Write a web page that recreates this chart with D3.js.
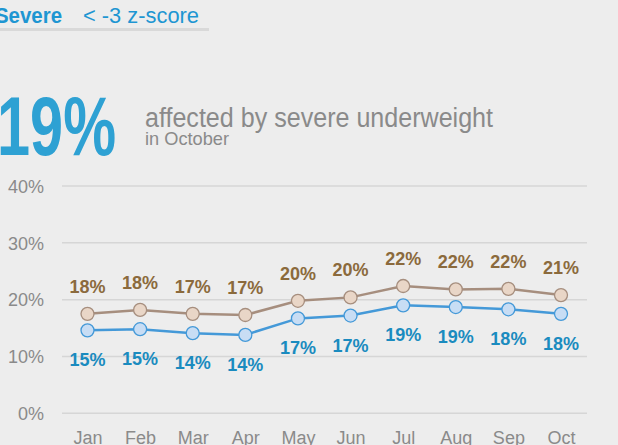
<!DOCTYPE html>
<html>
<head>
<meta charset="utf-8">
<script src="https://cdn.jsdelivr.net/npm/d3@7"></script>
<style>
  body { margin: 0; background: #ededed; }
  svg { display: block; font-family: "Liberation Sans", Arial, sans-serif; }
</style>
</head>
<body>
<div id="chart"></div>
<script>
var months = ["Jan", "Feb", "Mar", "Apr", "May", "Jun", "Jul", "Aug", "Sep", "Oct"];
var upperValues = [17.5, 18.2, 17.5, 17.3, 19.8, 20.4, 22.4, 21.8, 21.9, 20.8];
var upperLabels = ["18%", "18%", "17%", "17%", "20%", "20%", "22%", "22%", "22%", "21%"];
var severeValues = [14.6, 14.8, 14.1, 13.8, 16.7, 17.2, 19.0, 18.7, 18.3, 17.5];
var severeLabels = ["15%", "15%", "14%", "14%", "17%", "17%", "19%", "19%", "18%", "18%"];
var yTicks = [0, 10, 20, 30, 40];

var width = 618, height = 445;

var svg = d3.select("#chart").append("svg")
    .attr("width", width)
    .attr("height", height);

// header
svg.append("line")
    .attr("x1", 0).attr("x2", 209)
    .attr("y1", 29.5).attr("y2", 29.5)
    .attr("stroke", "#d9d9d9")
    .attr("stroke-width", 3);

svg.append("text")
    .attr("x", -5).attr("y", 23)
    .attr("font-size", 22)
    .attr("font-weight", "bold")
    .attr("fill", "#1e96d2")
    .attr("textLength", 67)
    .attr("lengthAdjust", "spacingAndGlyphs")
    .text("Severe");

svg.append("text")
    .attr("x", 83).attr("y", 23)
    .attr("font-size", 22)
    .attr("fill", "#1e96d2")
    .attr("textLength", 116)
    .attr("lengthAdjust", "spacingAndGlyphs")
    .text("< -3 z-score");

// big number
svg.append("text")
    .attr("x", -3).attr("y", 155)
    .attr("font-size", 84)
    .attr("font-weight", "bold")
    .attr("font-family", "'Liberation Sans Narrow', 'Liberation Sans', sans-serif")
    .attr("fill", "#2ea1d3")
    .attr("textLength", 119)
    .attr("lengthAdjust", "spacingAndGlyphs")
    .text("19%");

svg.append("text")
    .attr("x", 145).attr("y", 127)
    .attr("font-size", 27)
    .attr("fill", "#8a8a8a")
    .attr("textLength", 348)
    .attr("lengthAdjust", "spacingAndGlyphs")
    .text("affected by severe underweight");

svg.append("text")
    .attr("x", 145).attr("y", 145)
    .attr("font-size", 19)
    .attr("fill", "#8a8a8a")
    .attr("textLength", 84)
    .attr("lengthAdjust", "spacingAndGlyphs")
    .text("in October");

// chart
var margin = {top: 186, left: 62, right: 31, bottom: 32};

var x = d3.scalePoint()
    .domain(months)
    .range([87.5, 561])
    .padding(0);

var y = d3.scaleLinear()
    .domain([0, 40])
    .range([413.3, 186]);

var grid = svg.append("g");
grid.selectAll("line")
    .data(yTicks)
    .enter().append("line")
    .attr("x1", margin.left)
    .attr("x2", width - margin.right)
    .attr("y1", function(d) { return y(d); })
    .attr("y2", function(d) { return y(d); })
    .attr("stroke", "#d6d6d6")
    .attr("stroke-width", 1.5);

var yAxis = svg.append("g")
    .attr("transform", "translate(44,0)")
    .call(d3.axisLeft(y).tickValues(yTicks).tickSize(0).tickFormat(function(d) { return d + "%"; }));
yAxis.select(".domain").remove();
yAxis.selectAll("text")
    .attr("x", 0)
    .attr("dy", "0.35em")
    .attr("font-size", 18)
    .attr("font-family", "'Liberation Sans', Arial, sans-serif")
    .attr("fill", "#8a8a8a");

var xAxis = svg.append("g")
    .attr("transform", "translate(0,428)")
    .call(d3.axisBottom(x).tickSize(0));
xAxis.select(".domain").remove();
xAxis.selectAll("text")
    .attr("y", 0)
    .attr("dy", "0.9em")
    .attr("font-size", 18)
    .attr("font-family", "'Liberation Sans', Arial, sans-serif")
    .attr("fill", "#8a8a8a");

function drawSeries(values, labels, lineColor, fillColor, labelColor, labelOffset) {
    var line = d3.line()
        .x(function(d, i) { return x(months[i]); })
        .y(function(d) { return y(d); });

    svg.append("path")
        .datum(values)
        .attr("d", line)
        .attr("fill", "none")
        .attr("stroke", lineColor)
        .attr("stroke-width", 2.5);

    svg.append("g").selectAll("circle")
        .data(values)
        .enter().append("circle")
        .attr("cx", function(d, i) { return x(months[i]); })
        .attr("cy", function(d) { return y(d); })
        .attr("r", 6.5)
        .attr("fill", fillColor)
        .attr("stroke", lineColor)
        .attr("stroke-width", 1.3);

    svg.append("g").selectAll("text")
        .data(values)
        .enter().append("text")
        .attr("x", function(d, i) { return x(months[i]); })
        .attr("y", function(d) { return y(d) + labelOffset; })
        .attr("text-anchor", "middle")
        .attr("font-size", 18)
        .attr("font-weight", "bold")
        .attr("fill", labelColor)
        .text(function(d, i) { return labels[i]; });
}

drawSeries(upperValues, upperLabels, "#a68e7e", "#e9d6c7", "#8b6a3c", -21);
drawSeries(severeValues, severeLabels, "#4499d8", "#c8ddf4", "#1a8bbf", 36);
</script>
</body>
</html>
